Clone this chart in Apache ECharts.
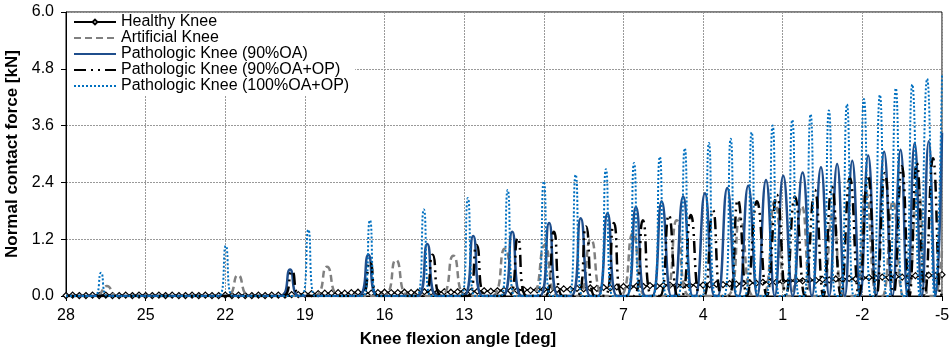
<!DOCTYPE html>
<html>
<head>
<meta charset="utf-8">
<script src="https://cdn.jsdelivr.net/npm/echarts@6/dist/echarts.min.js"></script>
<style>html,body{margin:0;padding:0;background:#fff;}#c{width:951px;height:353px;}</style>
</head>
<body>
<div id="c"></div>
<script>
// ---- data (knee flexion angle in deg, normal contact force in kN) ----
const seriesNames = ['Healthy Knee', 'Artificial Knee', 'Pathologic Knee (90%OA)', 'Pathologic Knee (90%OA+OP)', 'Pathologic Knee (100%OA+OP)'];
const xTickStart = 28;          // leftmost angle
const xTickEnd = -5;            // rightmost angle
const yTicks = [0, 1.2, 2.4, 3.6, 4.8, 6.0];

// Healthy knee: sampled every 0.25 deg from 28 to -5
const healthyStartAngle = 28;
const healthyStepAngle = 0.25;
const healthyForce = [
  0.01,0.02,0.01,0.01,0.02,0.01,0.02,0.01,0.01,0.02,0.01,0.02,0.01,0.01,0.02,0.01,0.02,0.01,0.01,0.02,0.01,0.02,0.01,0.01,0.02,0.01,0.02,0.01,0.01,0.02,0.01,0.02,0.02,
  0.02,0.03,0.03,0.04,0.05,0.05,0.06,0.06,
  0.07,0.06,0.07,0.08,0.07,0.06,0.07,0.08,0.07,0.07,0.08,0.07,0.08,0.09,0.08,0.08,0.09,0.08,0.09,0.10,
  0.09,0.10,0.11,0.10,0.11,0.12,0.11,0.12,0.13,0.12,0.13,0.14,
  0.13,0.14,0.15,0.14,0.16,0.15,0.17,0.16,0.18,0.17,0.19,0.20,
  0.19,0.21,0.20,0.22,0.21,0.22,0.23,0.22,0.23,0.22,0.24,0.23,
  0.24,0.25,0.24,0.26,0.25,0.27,0.28,0.27,0.29,0.30,0.29,0.31,
  0.32,0.33,0.32,0.34,0.33,0.35,0.34,0.36,0.35,0.37,0.36,0.38,
  0.39,0.38,0.40,0.39,0.41,0.40,0.42,0.43,0.42,0.44,0.43,0.45
];

// Artificial knee: [angle, force] vertices (base, apex, base of each hump)
const artificialKnee = [
  [28,0],[26.86,0],[26.46,0.21],[26.06,0],[21.97,0],[21.52,0.44],[21.07,0],
  [18.67,0],[18.17,0.62],[17.67,0],[16.07,0],[15.57,0.76],[15.07,0],
  [13.91,0],[13.41,0.85],[12.91,0],[11.97,0],[11.47,1.00],[10.97,0],
  [10.46,0],[9.96,1.08],[9.46,0],[8.73,0],[8.23,1.20],[7.73,0],
  [7.14,0],[6.64,1.33],[6.14,0],[5.49,0],[4.99,1.60],[4.49,0],
  [3.11,0],[2.61,1.65],[2.11,0],[1.75,0],[1.30,2.00],[0.85,0],
  [0.70,0],[0.28,1.90],[-0.14,0],[-0.45,0],[-0.89,1.75],[-1.33,0],
  [-1.70,0],[-2.13,2.20],[-2.56,0],[-2.75,0],[-3.15,2.00],[-3.55,0],
  [-3.68,0],[-4.09,2.30],[-4.50,0],[-4.70,0],[-5,1.00]
];

// Pathologic knee (90%OA)
const pathologic90 = [
  [28,0],[19.92,0],[19.56,0.56],[19.20,0],[16.97,0],[16.61,0.87],[16.25,0],
  [14.75,0],[14.39,1.10],[14.03,0],[13.02,0],[12.66,1.27],[12.30,0],
  [11.55,0],[11.19,1.36],[10.83,0],[10.16,0],[9.80,1.54],[9.44,0],
  [8.97,0],[8.61,1.64],[8.25,0],[7.96,0],[7.60,1.75],[7.24,0],
  [6.89,0],[6.53,1.88],[6.17,0],[5.92,0],[5.56,2.00],[5.20,0],
  [5.11,0],[4.75,2.10],[4.39,0],[4.29,0],[3.93,2.17],[3.57,0],
  [3.45,0],[3.09,2.28],[2.73,0],[2.66,0],[2.30,2.33],[1.96,0],
  [1.63,2.45],[1.30,0],[0.98,2.54],[0.62,0],[0.25,2.61],[-0.10,0],
  [-0.44,2.72],[-0.75,0],[-1.05,2.79],[-1.34,0],[-1.62,2.86],[-1.92,0],
  [-2.22,2.97],[-2.52,0],[-2.82,3.05],[-3.13,0],[-3.44,3.09],[-3.70,0],
  [-3.97,3.23],[-4.24,0],[-4.50,3.27],[-4.76,0],[-5,3.45]
];

// Pathologic knee (90%OA+OP)
const pathologic90op = [
  [28,0],[19.83,0],[19.49,0.53],[19.15,0],[16.89,0],[16.55,0.73],[16.21,0],
  [14.53,0],[14.19,0.87],[13.85,0],[12.87,0],[12.53,1.08],[12.19,0],
  [11.32,0],[10.98,1.23],[10.64,0],[9.96,0],[9.62,1.36],[9.28,0],
  [8.75,0],[8.41,1.47],[8.07,0],[7.70,0],[7.36,1.54],[7.02,0],
  [6.61,0],[6.27,1.60],[5.93,0],[5.63,0],[5.29,1.71],[4.95,0],
  [4.80,0],[4.46,1.71],[4.12,0],[3.97,0],[3.63,1.82],[3.29,0],
  [3.03,0],[2.69,2.03],[2.35,0],[1.97,2.00],[1.60,0],[1.22,2.14],[0.88,0],
  [0.54,2.10],[0.17,0],[-0.21,2.24],[-0.53,0],[-0.85,2.31],[-1.19,0],
  [-1.53,2.50],[-1.87,0],[-2.21,2.55],[-2.53,0],[-2.85,2.60],[-3.17,0],
  [-3.49,2.74],[-3.77,0],[-4.05,2.81],[-4.35,0],[-4.66,2.91],[-4.96,0],[-5,0.10]
];

// Pathologic knee (100%OA+OP)
const pathologic100op = [
  [28,0],[26.93,0],[26.68,0.49],[26.43,0],[22.23,0],[21.98,1.06],[21.73,0],
  [19.12,0],[18.87,1.40],[18.62,0],[16.80,0],[16.55,1.60],[16.30,0],
  [14.77,0],[14.52,1.83],[14.27,0],[13.11,0],[12.86,2.07],[12.61,0],
  [11.61,0],[11.36,2.24],[11.11,0],[10.25,0],[10.00,2.42],[9.75,0],
  [9.05,0],[8.80,2.56],[8.55,0],[7.91,0],[7.66,2.68],[7.41,0],
  [6.85,0],[6.60,2.81],[6.35,0],[5.88,0],[5.63,2.94],[5.38,0],
  [4.94,0],[4.69,3.12],[4.44,0],[4.03,0],[3.78,3.23],[3.53,0],
  [3.21,0],[2.96,3.32],[2.71,0],[2.42,0],[2.17,3.46],[1.92,0],
  [1.63,0],[1.38,3.60],[1.13,0],[0.89,0],[0.64,3.72],[0.39,0],
  [0.20,0],[-0.05,3.84],[-0.30,0],[-0.49,0],[-0.74,3.92],[-0.99,0],
  [-1.17,0],[-1.42,4.05],[-1.67,0],[-1.81,0],[-2.06,4.16],[-2.31,0],
  [-2.41,0],[-2.66,4.25],[-2.91,0],[-3.01,0],[-3.26,4.39],[-3.51,0],
  [-3.63,0],[-3.88,4.47],[-4.16,0],[-4.44,4.59],[-4.72,0],[-5,4.66]
];

// ---- build ----
const toU = a => xTickStart - a;   // position along the (left-to-right) axis
const mapPts = arr => arr.map(p => [toU(p[0]), p[1]]);
const healthyData = healthyForce.map((v, i) => [toU(healthyStartAngle - healthyStepAngle * i), v]);

const FONT = 'Liberation Sans, Arial, sans-serif';
const chart = echarts.init(document.getElementById('c'), null, {renderer: 'canvas'});
chart.setOption({
  animation: false,
  backgroundColor: '#fff',
  textStyle: {fontFamily: FONT},
  grid: {left: 66, right: 9, top: 12, bottom: 57, show: true, borderColor: '#000', borderWidth: 1,
         backgroundColor: 'transparent', containLabel: false, outerBoundsMode: 'none'},
  legend: {
    orient: 'vertical', left: 67, top: 13,
    padding: [1, 6, 2, 6], itemGap: 0, itemWidth: 42, itemHeight: 6,
    backgroundColor: '#fff',
    textStyle: {fontSize: 16, color: '#000', fontFamily: FONT},
    data: [
      {name: seriesNames[0]},
      {name: seriesNames[1], itemStyle: {opacity: 0}},
      {name: seriesNames[2], itemStyle: {opacity: 0}},
      {name: seriesNames[3], itemStyle: {opacity: 0}},
      {name: seriesNames[4], itemStyle: {opacity: 0}}
    ]
  },
  xAxis: {
    type: 'value', min: 0, max: xTickStart - xTickEnd, interval: 3,
    name: 'Knee flexion angle [deg]', nameLocation: 'middle', nameGap: 35,
    nameTextStyle: {fontSize: 17, fontWeight: 'bold', color: '#000', fontFamily: FONT, padding: [0, 92, 0, 0]},
    axisLine: {show: true, lineStyle: {color: '#000', width: 1}},
    axisTick: {show: true, inside: false, length: 5, lineStyle: {color: '#000'}},
    axisLabel: {fontSize: 16, color: '#000', margin: 12, formatter: v => String(xTickStart - v)},
    splitLine: {show: true, lineStyle: {color: '#999', type: [2, 1], width: 1}}
  },
  yAxis: {
    type: 'value', min: yTicks[0], max: yTicks[yTicks.length - 1], interval: yTicks[1] - yTicks[0],
    name: 'Normal contact force [kN]', nameLocation: 'middle', nameGap: 45,
    nameTextStyle: {fontSize: 17, fontWeight: 'bold', color: '#000', fontFamily: FONT},
    axisLine: {show: true, lineStyle: {color: '#000', width: 1}},
    axisTick: {show: true, inside: false, length: 5, lineStyle: {color: '#000'}},
    axisLabel: {fontSize: 16, color: '#000', margin: 12, formatter: v => v.toFixed(1)},
    splitLine: {show: true, lineStyle: {color: '#999', type: [2, 1], width: 1}}
  },
  series: [
    {name: seriesNames[0], type: 'line', data: healthyData, smooth: false,
     symbol: 'diamond', symbolSize: 6, showSymbol: true,
     itemStyle: {color: '#fff', borderColor: '#000', borderWidth: 1.2},
     lineStyle: {color: '#000', width: 2}, z: 2},
    {name: seriesNames[1], type: 'line', data: mapPts(artificialKnee), smooth: 0.5, symbol: 'none',
     itemStyle: {color: '#808080'}, lineStyle: {color: '#808080', width: 2.5, type: [7, 4]}, z: 3},
    {name: seriesNames[2], type: 'line', data: mapPts(pathologic90), smooth: 0.5, symbol: 'none',
     itemStyle: {color: '#1F4E8C'}, lineStyle: {color: '#1F4E8C', width: 2.5}, z: 4},
    {name: seriesNames[3], type: 'line', data: mapPts(pathologic90op), smooth: 0.5, symbol: 'none',
     itemStyle: {color: '#000'}, lineStyle: {color: '#000', width: 2.5, type: [12, 5, 2, 5, 2, 5]}, z: 5},
    {name: seriesNames[4], type: 'line', data: mapPts(pathologic100op), smooth: 0.5, symbol: 'none',
     itemStyle: {color: '#0070C0'}, lineStyle: {color: '#0070C0', width: 2, type: [2, 2]}, z: 6}
  ]
});
</script>
</body>
</html>
